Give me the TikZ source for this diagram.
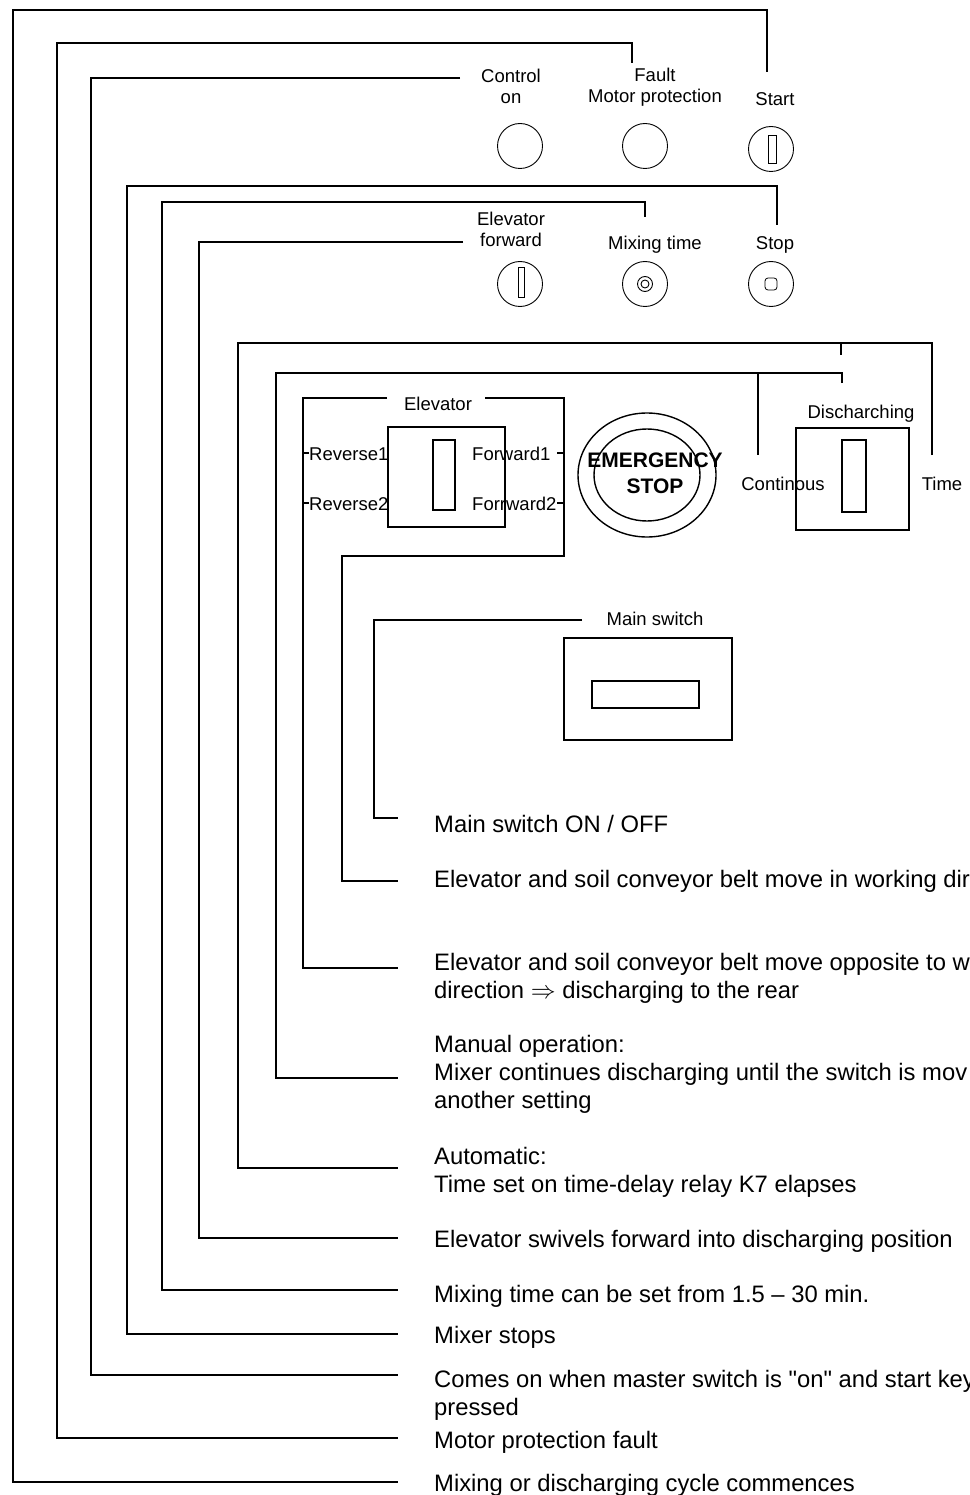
\documentclass[tikz,border=0pt]{standalone}
\usepackage{fontspec}
\setmainfont{Liberation Sans}[Ligatures=TeXOff]
\usetikzlibrary{shapes.geometric}
\newcommand\notesize{\fontsize{23.8}{28}\selectfont}
\newcommand\lblsize{\fontsize{18.5}{21.5}\selectfont}
\tikzset{
  lead/.style={line width=1.1pt},
  note/.style={anchor=base west, align=left, inner sep=0pt, font=\notesize},
  lbl/.style={anchor=base, align=center, inner sep=0pt, font=\lblsize},
  knob/.style={draw, circle, minimum size=45pt, inner sep=0pt, line width=0.9pt},
  frame/.style={draw, rectangle, inner sep=0pt, line width=1.1pt},
}
\begin{document}
\begin{tikzpicture}[x=1pt, y=-1pt]
	\useasboundingbox (0,0) rectangle (969,1495);
	\clip (0,0) rectangle (969,1495);

	% top row
	\node (lbl-ctrl) [lbl] at (511,104) {Control\\on};
	\node (lbl-fault) [lbl] at (655,103) {Fault\\Motor protection};
	\node (lbl-start) [lbl] at (775,106) {Start};
	\node (k-ctrl) [knob] at (520,146) {};
	\node (k-fault) [knob] at (645,146) {};
	\node (k-start) [knob] at (771,149) {};
	\node (k-start-slot) [frame, line width=0.9pt, minimum width=8pt, minimum height=28pt] at (772,149) {};

	% second row
	\node (lbl-fwd) [lbl] at (511,247) {Elevator\\forward};
	\node (lbl-mix) [lbl] at (655,250) {Mixing time};
	\node (lbl-stop) [lbl] at (775,250) {Stop};
	\node (k-fwd) [knob] at (520,284) {};
	\node (k-fwd-slot) [frame, line width=0.9pt, minimum width=6pt, minimum height=30pt] at (521,282) {};
	\node (k-mix) [knob] at (645,284) {};
	\node (k-mix-in) [knob, minimum size=15pt] at (645,284) {};
	\node (k-mix-pin) [knob, minimum size=8pt] at (645,284) {};
	\node (k-stop) [knob] at (771,284) {};
	\node (k-stop-in) [frame, line width=0.8pt, rounded corners=3pt, minimum size=12pt] at (771,284) {};

	% elevator switch
	\node (lbl-elev) [lbl] at (438,410) {Elevator};
	\node (sw-elev) [frame, minimum width=117pt, minimum height=100pt] at (446.5,477) {};
	\node (sw-elev-slot) [frame, minimum width=22pt, minimum height=70pt] at (444,475) {};
	\node (lbl-rev1) [lbl, anchor=base west] at (309,460) {Reverse1};
	\node (lbl-rev2) [lbl, anchor=base west] at (309,510) {Reverse2};
	\node (lbl-fwd1) [lbl, anchor=base west] at (472,460) {Forward1};
	\node (lbl-fwd2) [lbl, anchor=base west] at (472,510) {Forrward2};

	% emergency stop
	\node (estop) [draw, ellipse, line width=1.4pt, minimum width=138pt, minimum height=124pt] at (647,475) {};
	\node (estop-in) [draw, ellipse, line width=1.4pt, minimum width=106pt, minimum height=92pt] at (647,475) {};
	\node (estop-txt) [lbl, font=\fontsize{21}{26}\selectfont\bfseries] at (655,493) {EMERGENCY\\STOP};

	% discharging switch
	\node (lbl-dis) [lbl] at (861,418) {Discharching};
	\node (sw-dis) [frame, minimum width=113pt, minimum height=102pt] at (852.5,479) {};
	\node (sw-dis-slot) [frame, minimum width=24pt, minimum height=72pt] at (854,476) {};
	\node (lbl-cont) [lbl] at (783,490) {Continous};
	\node (lbl-time) [lbl] at (942,490) {Time};

	% main switch
	\node (lbl-main) [lbl] at (655,625) {Main switch};
	\node (sw-main) [frame, minimum width=168pt, minimum height=102pt] at (648,689) {};
	\node (sw-main-slot) [frame, minimum width=107pt, minimum height=27pt] at (645.5,694.5) {};

	% notes
	\node (n-main) [note] at (434,832) {Main switch ON / OFF};
	\node (n-work) [note] at (434,887) {Elevator and soil conveyor belt move in working dir};
	\node (n-opp) [note] at (434,998) {Elevator and soil conveyor belt move opposite to w\\direction $\Rightarrow$ discharging to the rear};
	\node (n-manual) [note] at (434,1108) {Manual operation:\\Mixer continues discharging until the switch is mov\\another setting};
	\node (n-auto) [note] at (434,1192) {Automatic:\\Time set on time-delay relay K7 elapses};
	\node (n-swivel) [note] at (434,1247) {Elevator swivels forward into discharging position};
	\node (n-mixtime) [note] at (434,1302) {Mixing time can be set from 1.5 – 30 min.};
	\node (n-stop) [note] at (434,1343) {Mixer stops};
	\node (n-on) [note] at (434,1415) {Comes on when master switch is "on" and start key\\pressed};
	\node (n-fault) [note] at (434,1448) {Motor protection fault};
	\node (n-cycle) [note] at (434,1491) {Mixing or discharging cycle commences};

	% leader ends
	\coordinate (t-start) at (767,72);
	\coordinate (t-fault) at (632,63);
	\coordinate (t-ctrl) at (460,78);
	\coordinate (t-stop) at (777,225);
	\coordinate (t-mix) at (645,217);
	\coordinate (t-fwd) at (463,242);
	\coordinate (t-time) at (932,455);
	\coordinate (t-cont) at (842,383);
	\coordinate (t-main) at (582,620);
	\coordinate (f-main) at (398,818);
	\coordinate (f-work) at (398,881);
	\coordinate (f-opp) at (398,968);
	\coordinate (f-manual) at (398,1078);
	\coordinate (f-auto) at (398,1168);
	\coordinate (f-swivel) at (398,1238);
	\coordinate (f-mixtime) at (398,1290);
	\coordinate (f-stop) at (398,1334);
	\coordinate (f-on) at (398,1375);
	\coordinate (f-fault) at (398,1438);
	\coordinate (f-cycle) at (398,1482);

	% leaders
	\draw[lead] (t-start) |- (13,10) |- (f-cycle);
	\draw[lead] (t-fault) |- (57,43) |- (f-fault);
	\draw[lead] (t-ctrl) -- (91,78) |- (f-on);
	\draw[lead] (t-stop) |- (127,186) |- (f-stop);
	\draw[lead] (t-mix) |- (162,202) |- (f-mixtime);
	\draw[lead] (t-fwd) -- (199,242) |- (f-swivel);
	\draw[lead] (t-time) |- (238,343) |- (f-auto);
	\draw[lead] (841,343) -- (841,355);
	\draw[lead] (t-cont) |- (276,373) |- (f-manual);
	\draw[lead] (758,373) -- (758,455);
	\draw[lead] (387,398) -- (303,398) |- (f-opp);
	\draw[lead] (485,398) -| (564,556) -- (342,556) |- (f-work);
	\draw[lead] (303,453) -- (309,453);
	\draw[lead] (303,503) -- (309,503);
	\draw[lead] (557,453) -- (564,453);
	\draw[lead] (557,503) -- (564,503);
	\draw[lead] (t-main) -- (374,620) |- (f-main);
\end{tikzpicture}
\end{document}
